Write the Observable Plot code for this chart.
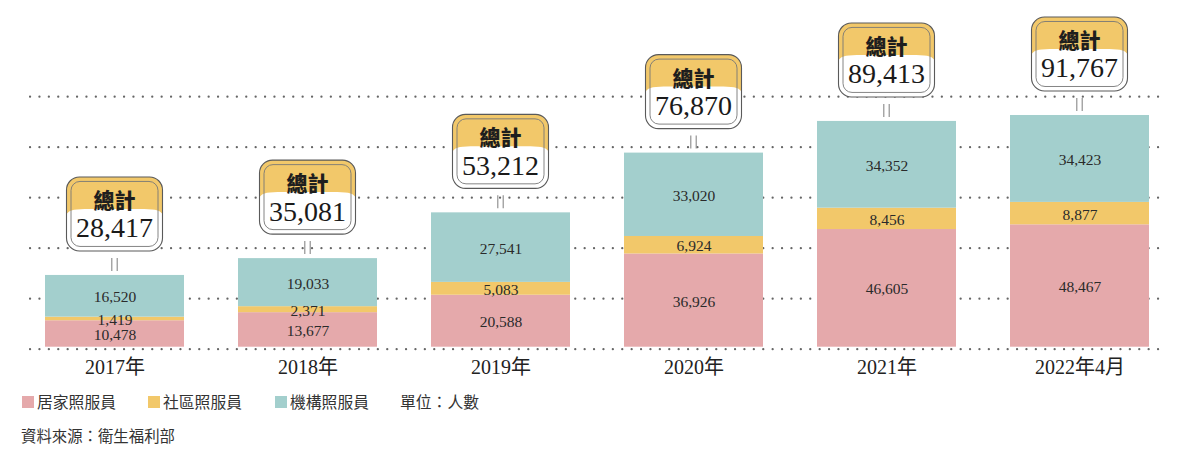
<!DOCTYPE html>
<html>
<head>
<meta charset="utf-8">
<script src="https://cdn.jsdelivr.net/npm/d3@7"></script>
<script src="https://cdn.jsdelivr.net/npm/@observablehq/plot@0.6"></script>
<style>
  html, body { margin: 0; padding: 0; background: #fff; }
  #chart svg { display: block; }
  .legend { position: relative; height: 60px; font-family: "Noto Sans CJK TC", sans-serif; color: #333; }
  .item { position: absolute; top: 6px; font-size: 15.8px; line-height: 22px; white-space: nowrap; display: flex; align-items: center; }
  .sw { display: inline-block; width: 12px; height: 12px; margin-right: 3px; }
  .source { position: absolute; left: 21px; top: 39px; font-size: 15.4px; line-height: 22px; white-space: nowrap; }
</style>
</head>
<body>
<div id="chart"></div>
<div class="legend" id="legend"></div>
<script>
const years = ["2017年", "2018年", "2019年", "2020年", "2021年", "2022年4月"];
const home = [10478, 13677, 20588, 36926, 46605, 48467];
const community = [1419, 2371, 5083, 6924, 8456, 8877];
const institution = [16520, 19033, 27541, 33020, 34352, 34423];
const totals = [28417, 35081, 53212, 76870, 89413, 91767];
const seriesNames = ["居家照服員", "社區照服員", "機構照服員"];
const seriesColors = ["#e5a9ab", "#f2c86a", "#a3cfcd"];
const gridTicks = [0, 20000, 40000, 60000, 80000, 100000];
const unitLabel = "單位：人數";
const sourceLabel = "資料來源：衛生福利部";
const totalLabel = "總計";

const seriesValues = [home, community, institution];
const rows = [];
years.forEach((yr, i) => {
  seriesNames.forEach((s, j) => rows.push({year: yr, series: s, value: seriesValues[j][i]}));
});
const totalRows = years.map((yr, i) => ({year: yr, total: totals[i]}));
const fmt = d3.format(",");

function totalBoxes(index, scales) {
  const g = d3.create("svg:g");
  const bw = scales.x.bandwidth ? scales.x.bandwidth() : 0;
  const W = 96, H = 74, r = 13;
  totalRows.forEach(d => {
    const cx = scales.x(d.year) + bw / 2;
    const barTop = scales.y(d.total);
    const B = barTop - 24;
    const T = B - H;
    const L = cx - W / 2, R = cx + W / 2;
    [-2.7, 2.7].forEach(off => {
      g.append("line").attr("x1", cx + off).attr("x2", cx + off)
        .attr("y1", B + 7).attr("y2", barTop - 4)
        .attr("stroke", "#888").attr("stroke-width", 1.1);
    });
    g.append("rect").attr("x", L).attr("y", T).attr("width", W).attr("height", H)
      .attr("rx", r).attr("fill", "#fff");
    g.append("path").attr("fill", "#f2c86a").attr("d",
      `M${L},${T + 38} L${L},${T + r} A${r},${r} 0 0 1 ${L + r},${T} L${R - r},${T} A${r},${r} 0 0 1 ${R},${T + r} L${R},${T + 38} Q${R - 1},${T + 32} ${R - 18},${T + 32} L${L + 18},${T + 32} Q${L + 1},${T + 32} ${L},${T + 38} Z`);
    g.append("rect").attr("x", L).attr("y", T).attr("width", W).attr("height", H)
      .attr("rx", r).attr("fill", "none").attr("stroke", "#5a5a5a").attr("stroke-width", 1.1);
    g.append("rect").attr("x", L + 4.5).attr("y", T + 4.5).attr("width", W - 9).attr("height", H - 9)
      .attr("rx", 9).attr("fill", "none").attr("stroke", "#777").attr("stroke-width", 0.9);
    g.append("text").attr("x", cx).attr("y", T + 22).attr("text-anchor", "middle")
      .attr("dominant-baseline", "central")
      .attr("font-family", "'Noto Sans CJK TC', sans-serif").attr("font-weight", 900)
      .attr("font-size", 21).attr("fill", "#1e1e1e").text(totalLabel);
    g.append("text").attr("x", cx).attr("y", T + 51).attr("text-anchor", "middle")
      .attr("dominant-baseline", "central")
      .attr("font-family", "'Liberation Serif', 'Times New Roman', serif")
      .attr("font-size", 28).attr("fill", "#1a1a1a").text(fmt(d.total));
  });
  return g.node();
}

const chart = Plot.plot({
  width: 1200,
  height: 385,
  marginLeft: 30,
  marginRight: 35,
  marginTop: 94.2,
  marginBottom: 38.3,
  style: {background: "#fff", overflow: "visible", fontFamily: "'Liberation Serif', 'Noto Sans CJK TC', serif"},
  x: {type: "band", domain: years, range: [44.3, 1150.8], paddingInner: 0.279, paddingOuter: 0, axis: null},
  y: {domain: [0, 100000], range: [346.7, 94.2], axis: null},
  color: {domain: seriesNames, range: seriesColors},
  marks: [
    Plot.ruleY(gridTicks, {dy: 2, stroke: "#666", strokeWidth: 2.2, strokeLinecap: "round", strokeDasharray: "0.1,9.3"}),
    Plot.barY(rows, {x: "year", y: "value", fill: "series", order: seriesNames}),
    Plot.text(rows, Plot.stackY({x: "year", y: "value", z: "series", order: seriesNames, text: d => fmt(d.value),
      fontSize: 15.5, fill: "#2a2a2a", fontFamily: "'Liberation Serif', serif", dy: 1})),
    totalBoxes,
    Plot.axisX({tickSize: 0, tickPadding: 13, fontSize: 20, fill: "#222", label: null,
      fontFamily: "'Liberation Serif', 'Noto Sans CJK TC', serif"})
  ]
});
document.getElementById("chart").appendChild(chart);

const legend = document.getElementById("legend");
const lefts = [22, 148, 275];
seriesNames.forEach((s, i) => {
  const it = document.createElement("div");
  it.className = "item";
  it.style.left = lefts[i] + "px";
  const sw = document.createElement("span");
  sw.className = "sw";
  sw.style.background = seriesColors[i];
  it.appendChild(sw);
  it.appendChild(document.createTextNode(s));
  legend.appendChild(it);
});
const unit = document.createElement("div");
unit.className = "item";
unit.style.left = "400px";
unit.textContent = unitLabel;
legend.appendChild(unit);
const src = document.createElement("div");
src.className = "source";
src.textContent = sourceLabel;
legend.appendChild(src);
</script>
</body>
</html>
